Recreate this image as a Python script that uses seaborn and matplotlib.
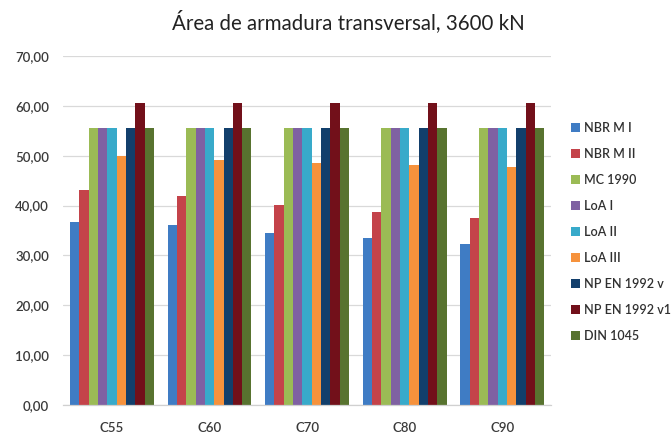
import matplotlib
matplotlib.use("Agg")
import matplotlib.pyplot as plt
from matplotlib.patches import Patch
from matplotlib.ticker import FuncFormatter
import seaborn as sns
import pandas as pd

classes = ["C55", "C60", "C70", "C80", "C90"]
series = ["NBR M I", "NBR M II", "MC 1990", "LoA I", "LoA II", "LoA III",
          "NP EN 1992 v", "NP EN 1992 v1", "DIN 1045"]

nbr_m_i = [36.7, 36.0, 34.5, 33.5, 32.3]
nbr_m_ii = [43.1, 42.0, 40.2, 38.7, 37.5]
mc_1990 = [55.6, 55.6, 55.6, 55.6, 55.6]
loa_i = [55.6, 55.6, 55.6, 55.6, 55.6]
loa_ii = [55.6, 55.6, 55.6, 55.6, 55.6]
loa_iii = [49.9, 49.2, 48.5, 48.2, 47.8]
np_en_v = [55.6, 55.6, 55.6, 55.6, 55.6]
np_en_v1 = [60.5, 60.5, 60.5, 60.5, 60.5]
din_1045 = [55.6, 55.6, 55.6, 55.6, 55.6]

values = [nbr_m_i, nbr_m_ii, mc_1990, loa_i, loa_ii, loa_iii,
          np_en_v, np_en_v1, din_1045]

colors = ["#3F7CC4", "#C4434A", "#9BBB55", "#7F61A2", "#38AACA", "#F6923C",
          "#123F6C", "#72101A", "#58732F"]

rows = []
for name, vals in zip(series, values):
    for c, v in zip(classes, vals):
        rows.append({"classe": c, "serie": name, "area": v})
df = pd.DataFrame(rows)

sns.set_theme(style="white")
plt.rcParams["font.family"] = ["Lato", "DejaVu Sans"]

fig = plt.figure(figsize=(6.72, 4.34), dpi=100)
ax = fig.add_axes([0.094, 0.067, 0.726, 0.804])

sns.barplot(data=df, x="classe", y="area", hue="serie", order=classes,
            hue_order=series, palette=colors, width=0.86, linewidth=0,
            saturation=1, legend=False, ax=ax, errorbar=None)

ax.set_ylim(0, 70)
ax.set_xlim(-0.5, 4.5)
ax.set_yticks(range(0, 71, 10))
ax.yaxis.set_major_formatter(FuncFormatter(lambda v, p: f"{v:.2f}".replace(".", ",")))
ax.grid(axis="y", color="#D9D9D9", linewidth=0.9)
ax.set_axisbelow(True)
for s in ["top", "right", "left"]:
    ax.spines[s].set_visible(False)
ax.spines["bottom"].set_color("#D0D0D0")
ax.spines["bottom"].set_linewidth(0.9)
ax.tick_params(axis="both", length=0, labelsize=9.5, colors="#3A3A3A", pad=10)
ax.tick_params(axis="x", pad=12)
for lbl in ax.get_xticklabels() + ax.get_yticklabels():
    lbl.set_fontweight("semibold")
ax.set_xlabel("")
ax.set_ylabel("")

fig.text(0.518, 0.933, "Área de armadura transversal, 3600 kN", ha="center",
         va="baseline", fontsize=14.8, color="#222222")

handles = [Patch(facecolor=c, edgecolor="none") for c in colors]
leg = fig.legend(handles, series, loc="upper left", bbox_to_anchor=(0.849, 0.72),
                 frameon=False, fontsize=9, handlelength=0.75, handleheight=0.75,
                 handletextpad=0.35, labelspacing=1.12, labelcolor="#303030",
                 borderaxespad=0, borderpad=0)
for t in leg.get_texts():
    t.set_fontweight("semibold")

fig.savefig("out.png", dpi=100)
